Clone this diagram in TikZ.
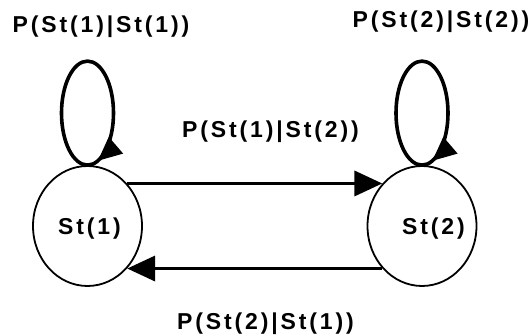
\documentclass[tikz,border=0pt]{standalone}
\usepackage{fontspec}
\usetikzlibrary{arrows.meta,shapes.geometric,decorations.markings}
\newfontfamily\lblfont[LetterSpace=12.5]{Liberation Sans}
\begin{document}
\begin{tikzpicture}[x=1pt,y=1pt,
  lbl/.style={font=\lblfont\bfseries\fontsize{23}{27}\selectfont, inner sep=0pt, anchor=base},
  state/.style={draw, ellipse, line width=1.8pt, minimum width=109pt, minimum height=120pt, inner sep=0pt},
  trans/.style={line width=3.6pt, -{Triangle[length=28pt,width=25pt]}},
  selfloop/.style={line width=3.6pt, postaction={decorate},
    decoration={markings, mark=at position 0.955 with {\arrow{Triangle[length=24pt,width=21pt]}}}}
]
\useasboundingbox (0,0) rectangle (530,335);
\node[state] (s1) at (87.5,109) {};
\node[state] (s2) at (422,109) {};
\node[lbl] (t1) at (89.5,100) {St(1)};
\node[lbl] (t2) at (433.5,100) {St(2)};
\draw[selfloop] (s1.north) arc[start angle=-90, end angle=-450, x radius=26, y radius=52];
\draw[selfloop] (s2.north) arc[start angle=-90, end angle=-450, x radius=26, y radius=52];
\draw[trans] (s1.47) -- (s2.133);
\draw[trans] (s2.-133) -- (s1.-47);
\node[lbl] (l11) at (101,302) {P(St(1)|St(1))};
\node[lbl] (l22) at (441,307) {P(St(2)|St(2))};
\node[lbl] (l12) at (270.5,197) {P(St(1)|St(2))};
\node[lbl] (l21) at (265.5,5.5) {P(St(2)|St(1))};
\end{tikzpicture}
\end{document}
